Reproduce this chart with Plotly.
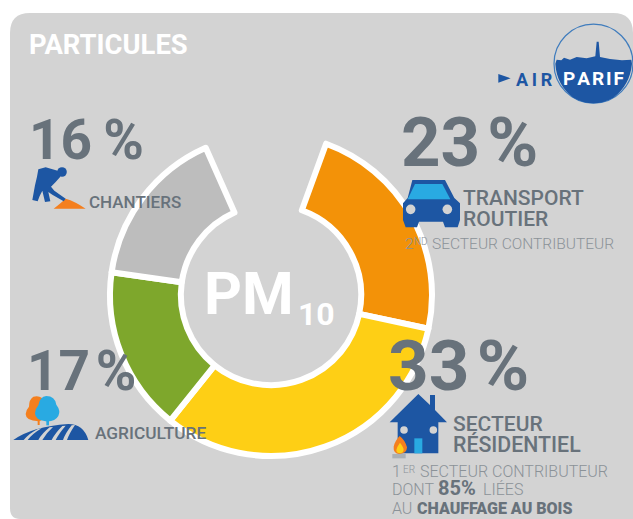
import re
import plotly.graph_objects as go

# ---- data ----
sectors = ["Transport routier", "Secteur résidentiel", "Agriculture", "Chantiers", ""]
arc_shares = [22.8, 32.4, 16.5, 16.1, 12.2]   # arc lengths as drawn (last one is the open gap)
slice_colors = ["#f39208", "#fecf15", "#7ea72c", "#bdbdbd", "rgba(0,0,0,0)"]
slice_lines = [6, 6, 6, 6, 0]
pct_labels = ["23\u200a%", "33\u200a%", "17\u200a%", "16\u2009%"]

W, H = 633, 519
BG, TXT, TXT2 = "#d3d3d3", "#68727b", "#8b9298"
BLUE, SKY, ORANGE = "#1d56a3", "#29aae2", "#f47f1e"
FONT = "Roboto"


def px(x, y):
    return x / W, 1 - y / H


def path(s, ox=0, oy=0, k=1.0):
    """Convert a path written in pixels (optionally zoomed) to paper coordinates."""
    out, nums = [], []
    for tok in re.findall(r"[MLQCZ]|-?\d+\.?\d*", s):
        if tok.isalpha():
            out.append(tok)
        else:
            nums.append(float(tok))
            if len(nums) == 2:
                a, b = px(ox + nums[0] * k, oy + nums[1] * k)
                out.append(f"{a:.5f},{b:.5f}")
                nums = []
    return " ".join(out)


shapes = []


def add_path(s, color, ox=0, oy=0, k=1.0, layer="above", line=None, lw=0):
    shapes.append(dict(type="path", xref="paper", yref="paper", path=path(s, ox, oy, k),
                       fillcolor=color, layer=layer,
                       line=dict(width=lw, color=line or "rgba(0,0,0,0)")))


def add_circle(cx, cy, r, color, line=None, lw=0):
    x0, y0 = px(cx - r, cy + r)
    x1, y1 = px(cx + r, cy - r)
    shapes.append(dict(type="circle", xref="paper", yref="paper", x0=x0, y0=y0, x1=x1, y1=y1,
                       fillcolor=color, layer="above",
                       line=dict(width=lw, color=line or "rgba(0,0,0,0)")))


# panel
add_path("M10,33 Q10,13 30,13 L613,13 Q633,13 633,33 L633,519 L20,519 Q10,519 10,508 Z", BG, layer="below")

# worker icon
add_path("M86,146 Q104,132 122,116 Q150,124 182,146 Z", ORANGE, 25, 160, 1 / 3)
add_path("M40,28 L62,22 L98,32 L106,50 L92,66 L78,80 L88,92 L122,116 L116,124 L82,104 L70,96 L76,124 L60,126 L52,92 L44,108 L38,124 L22,120 L30,76 L36,50 Z",
         BLUE, 25, 160, 1 / 3)
add_circle(62, 172, 4.8, BLUE)

# car icon
add_path("M52,30 L150,30 L178,84 L195,100 L195,150 L188,172 L150,172 L144,155 L72,155 L66,172 L32,172 L24,150 L24,100 L38,84 Z",
         BLUE, 395, 170, 1 / 3)
add_path("M60,42 L142,42 L166,88 L38,88 Z", SKY, 395, 170, 1 / 3)
add_circle(395 + 47 / 3, 170 + 118 / 3, 4.8, BG)
add_circle(395 + 157 / 3, 170 + 118 / 3, 4.8, BG)

# agriculture icon
add_path("M98,105 L104,105 L104,90 L98,90 Z", ORANGE, 5, 390, 1 / 3)
add_path("M85,20 Q112,14 118,38 Q128,90 100,94 Q62,92 62,72 Q64,58 72,50 Q72,28 85,20 Z", ORANGE, 5, 390, 1 / 3)
add_path("M124,90 L132,90 L132,106 L124,106 Z", SKY, 5, 390, 1 / 3)
add_path("M124,18 Q150,18 154,44 Q168,62 160,78 Q150,96 122,94 Q90,90 90,70 Q92,54 100,46 Q104,20 124,18 Z", SKY, 5, 390, 1 / 3)
add_path("M25,150 Q80,110 190,102 Q236,102 250,150 Z", BLUE, 5, 390, 1 / 3)
for a, b, c, d in [(56, 150, 100, 116), (100, 150, 134, 112), (140, 150, 172, 108), (174, 150, 200, 106)]:
    add_path(f"M{a},{b} Q{(a + c) // 2 - 6},{b - 20} {c},{d} L{c + 10},{d - 1} Q{(a + c) // 2 + 6},{b - 20} {a + 12},{b} Z",
             BG, 5, 390, 1 / 3)

# house icon
add_path("M100,12 L135,45 L135,15 L150,15 L150,60 L186,97 L160,97 L160,190 L38,190 L38,97 L14,97 Z", BLUE, 385, 390, 1 / 3)
add_circle(385 + 57 / 3, 390 + 120 / 3, 3.8, BG)
add_circle(385 + 145 / 3, 390 + 120 / 3, 3.8, BG)
add_path("M88,145 L112,145 L112,190 L88,190 Z", SKY, 385, 390, 1 / 3)
add_path("M22,192 L62,192 L62,205 L22,205 Z", "#aab0b5", 385, 390, 1 / 3)
add_path("M44,138 Q60,150 66,172 Q66,190 44,192 Q24,190 26,170 Q30,152 44,138 Z", ORANGE, 385, 390, 1 / 3)
add_path("M45,158 Q56,172 56,180 Q54,190 45,190 Q34,190 34,180 Q36,170 45,158 Z", "#fecf15", 385, 390, 1 / 3)

# Airparif logo
add_path("M25,177 L62,190 L25,203 Z", BLUE, 490, 15, 1 / 3)
add_circle(593.5, 63.7, 39.5, "rgba(0,0,0,0)", "#3f7cbd", 1.2)
add_path("M196,146 L200,134 L214,136 L222,128 L240,134 L260,126 L290,130 L316,124 L320,80 L326,80 L330,126 "
         "L360,132 L396,136 L424,134 L426,146 Q420,210 370,248 Q310,282 250,248 Q200,210 196,146 Z",
         BLUE, 490, 15, 1 / 3)

# ---- text ----
annotations = []


def txt(x, baseline, s, size, color=TXT, weight=400):
    xp, yp = px(x, baseline + 0.25 * size + 1)
    annotations.append(dict(x=xp, y=yp, xref="paper", yref="paper", xanchor="left", yanchor="bottom",
                            text=s, showarrow=False, align="left", borderpad=0,
                            font=dict(family=FONT, size=size, color=color, weight=weight)))


txt(28, 54, "PARTICULES", 27.4, "white", 700)
txt(28, 158, pct_labels[3], 55, TXT, 700)
txt(400, 166, pct_labels[0], 69, TXT, 700)
txt(26, 389, pct_labels[2], 55, TXT, 700)
txt(387, 389, pct_labels[1], 71, TXT, 700)
txt(88, 208, "CHANTIERS", 17, TXT, 500)
txt(94, 439, "AGRICULTURE", 17.3, TXT, 500)
txt(462, 205, "TRANSPORT", 21, TXT, 500)
txt(462, 226, "ROUTIER", 21, TXT, 500)
txt(452, 431, "SECTEUR", 21, TXT, 500)
txt(452, 452, "RÉSIDENTIEL", 21.3, TXT, 500)
txt(404, 249, "2", 15.5, TXT2, 300)
txt(413, 244, "ND", 10, TXT2, 300)
txt(431, 249, "SECTEUR CONTRIBUTEUR", 15.5, TXT2, 300)
txt(391, 477, "1", 16, TXT2, 300)
txt(402, 472, "ER", 10, TXT2, 300)
txt(419, 477, "SECTEUR CONTRIBUTEUR", 16, TXT2, 300)
txt(391, 495, "DONT", 16, TXT2, 300)
txt(437, 495, "85%", 20, TXT, 700)
txt(482, 495, "LIÉES", 16, TXT2, 300)
txt(391, 514, "AU", 16, TXT2, 300)
txt(416, 514, "CHAUFFAGE AU BOIS", 16, TXT, 900)
txt(203, 313, "PM", 59, "white", 700)
txt(297, 325, "10", 32, "white", 700)
txt(515, 85, "A\u2009I\u2009R", 18, BLUE, 700)
txt(562, 85, "P\u200aA\u200aR\u200aI\u200aF", 19, "white", 700)

# ---- donut ----
cx, cy, R = 271, 295, 161
fig = go.Figure(go.Pie(
    labels=sectors, values=arc_shares, sort=False, direction="clockwise", rotation=20,
    hole=0.56, textinfo="none", hoverinfo="skip", showlegend=False,
    marker=dict(colors=slice_colors, line=dict(color="white", width=slice_lines)),
    domain=dict(x=[(cx - R) / W, (cx + R) / W], y=[1 - (cy + R) / H, 1 - (cy - R) / H]),
))
fig.update_layout(width=W, height=H, margin=dict(l=0, r=0, t=0, b=0), autosize=False,
                  paper_bgcolor="white", plot_bgcolor="white", shapes=shapes, annotations=annotations)
fig.write_html("out.html", config=dict(displayModeBar=False),
               post_script="document.body.style.margin='0';document.body.style.overflow='hidden';")
